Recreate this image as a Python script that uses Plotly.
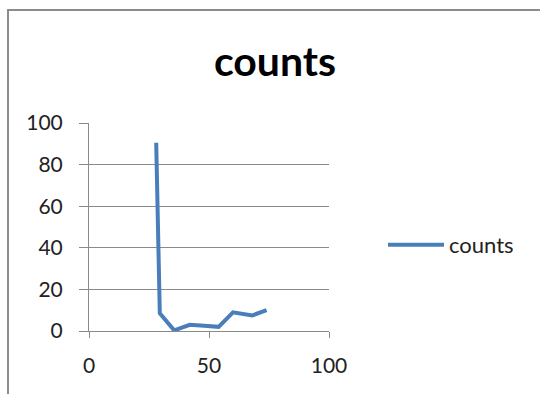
import plotly.graph_objects as go

# data
x_vals = [28, 29.5, 35.5, 42, 48, 54, 60, 68, 74]
counts = [90.5, 8.5, 0.3, 3.0, 2.5, 2.0, 9.0, 7.5, 10.0]
x_ticks = [0, 50, 100]
y_ticks = [0, 20, 40, 60, 80, 100]

W, H = 540, 394
L, R, T, B = 89, 211, 123, 63
pw, ph = W - L - R, H - T - B

FONT = "Lato"
GRID = "#8a8a8a"
BLUE = "#4A7EBB"

fig = go.Figure()
fig.add_trace(go.Scatter(
    x=x_vals, y=counts, mode="lines", name="counts",
    line=dict(color=BLUE, width=4),
))

def px2paper_x(px):
    return (px - L) / pw

def px2paper_y(py):
    return (H - B - py) / ph

fig.update_layout(
    width=W, height=H,
    margin=dict(l=L, r=R, t=T, b=B),
    paper_bgcolor="white", plot_bgcolor="white",
    title=dict(text="<b>counts</b>", x=275 / W, xref="container", xanchor="center",
               y=1 - 62 / H, yref="container", yanchor="middle",
               font=dict(family=FONT, size=41, color="black")),
    showlegend=True,
    legend=dict(x=383 / W, xref="container", xanchor="left",
                y=1 - 245 / H, yref="container", yanchor="middle",
                font=dict(family=FONT, size=22, color="#222"),
                itemwidth=56, bgcolor="rgba(0,0,0,0)"),
    xaxis=dict(range=[0, 100], tickvals=x_ticks, showgrid=False, zeroline=False,
               showline=True, linecolor=GRID, linewidth=1,
               ticks="outside", ticklen=6, tickcolor=GRID, ticklabelstandoff=10,
               tickfont=dict(family=FONT, size=21, color="#222")),
    yaxis=dict(range=[0, 100], tickvals=y_ticks, showgrid=True, gridcolor=GRID, gridwidth=1,
               zeroline=False, showline=True, linecolor=GRID, linewidth=1,
               ticks="outside", ticklen=9, tickcolor=GRID, ticklabelstandoff=12,
               tickfont=dict(family=FONT, size=21, color="#222")),
    shapes=[
        dict(type="path", xref="paper", yref="paper",
             path=f"M {px2paper_x(8)} {px2paper_y(420)} L {px2paper_x(8)} {px2paper_y(10)} L {px2paper_x(600)} {px2paper_y(10)}",
             line=dict(color="#8c8c8c", width=2)),
    ],
)

fig.write_html("out.html")
